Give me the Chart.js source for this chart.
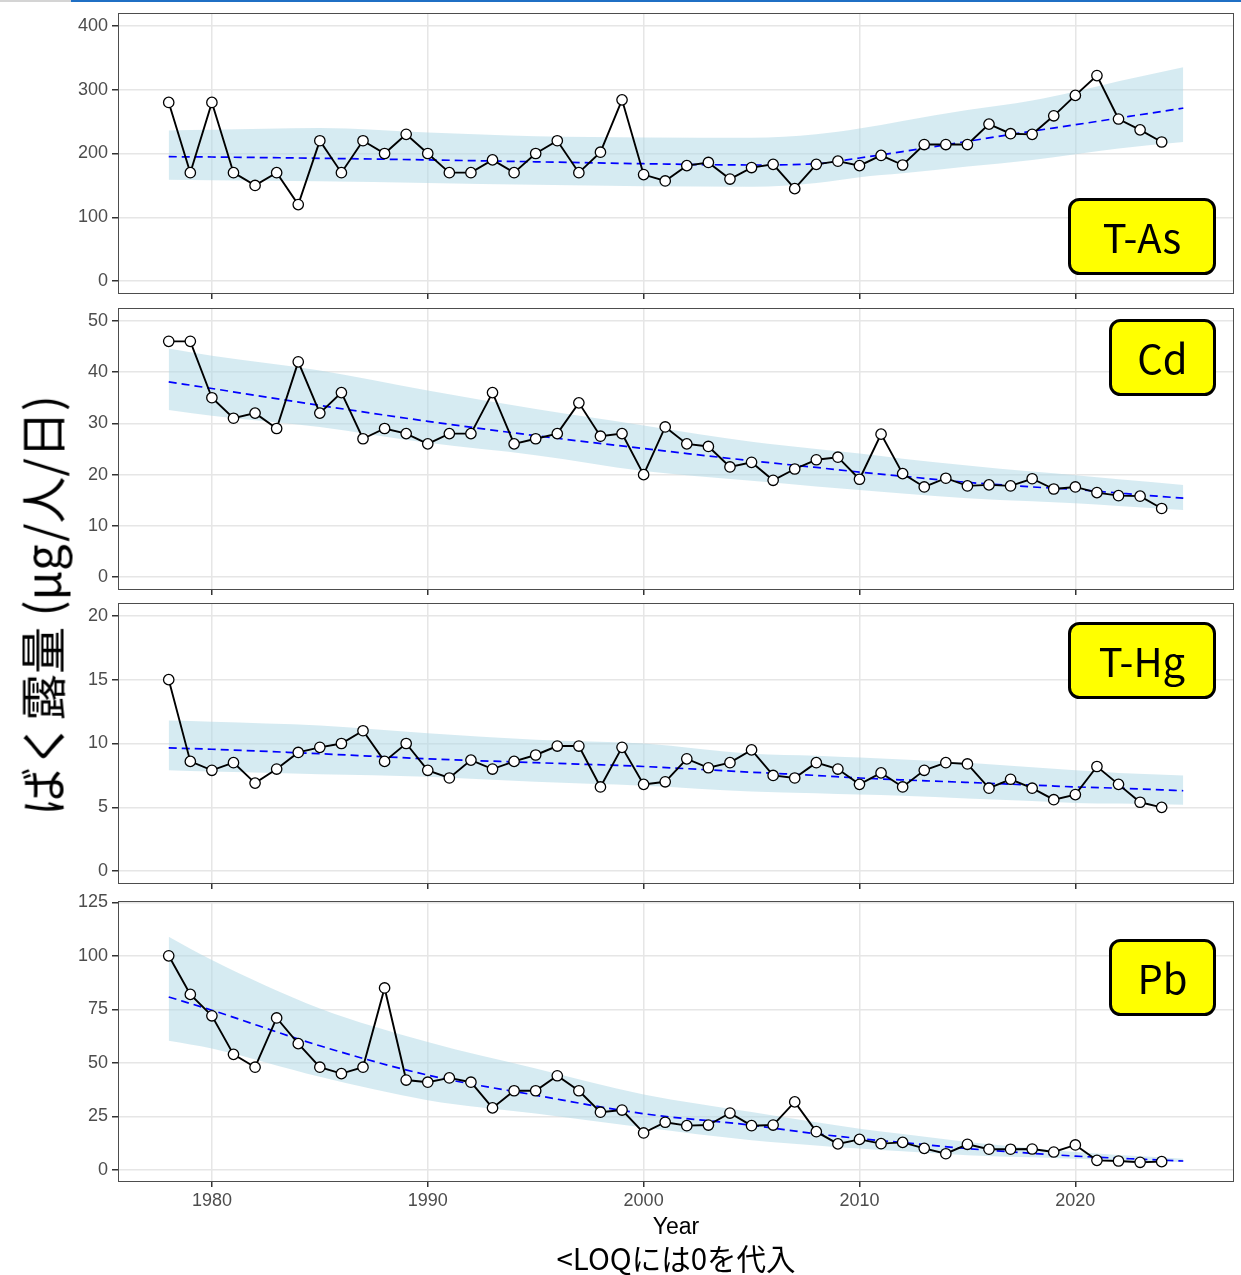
<!DOCTYPE html>
<html>
<head>
<meta charset="utf-8">
<script src="https://cdn.jsdelivr.net/npm/chart.js@4.4.1/dist/chart.umd.min.js"></script>
<style>
  body { margin: 0; background: #fff; width: 1241px; height: 1275px; position: relative; overflow: hidden; }
  canvas { position: absolute; left: 0; }
  #barGrey { position: absolute; left: 0; top: 0; width: 71px; height: 2px; background: #d4d4d4; }
  #barBlue { position: absolute; left: 71px; top: 0; width: 1170px; height: 2px; background: #1f6fc4; }
  #yTitle { position: absolute; left: 40px; top: 605px; transform: translate(-50%, -50%) rotate(-90deg);
            font: 47px "Noto Sans CJK JP"; white-space: nowrap; color: #000; }
  #xTitle { position: absolute; left: 676px; top: 1226px; transform: translate(-50%, -50%);
            font: 23px "Liberation Sans", Arial, sans-serif; color: #000; }
  #caption { position: absolute; left: 676px; top: 1257px; transform: translate(-50%, -50%);
             font: 29.5px "Noto Sans CJK JP"; white-space: nowrap; color: #000; }
</style>
</head>
<body>
<div id="barGrey"></div><div id="barBlue"></div>
<canvas id="c0"></canvas>
<canvas id="c1"></canvas>
<canvas id="c2"></canvas>
<canvas id="c3"></canvas>
<div id="yTitle">ばく露量 (μg/人/日)</div>
<div id="xTitle">Year</div>
<div id="caption">&lt;LOQには0を代入</div>
<script>
// observed years
const years = [1978, 1979, 1980, 1981, 1982, 1983, 1984, 1985, 1986, 1987, 1988, 1989,
  1990, 1991, 1992, 1993, 1994, 1995, 1996, 1997, 1998, 1999,
  2000, 2001, 2002, 2003, 2004, 2005, 2006, 2007, 2008, 2009,
  2010, 2011, 2012, 2013, 2014, 2015, 2016, 2017, 2018, 2019,
  2020, 2021, 2022, 2023, 2024];

const tAs = [280, 170, 280, 170, 150, 170, 120, 220, 170, 220, 200, 230,
  200, 170, 170, 190, 170, 200, 220, 170, 202, 284,
  167, 157, 181, 186, 160, 178, 183, 145, 183, 188,
  181, 197, 182, 214, 214, 214, 246, 231, 230, 259,
  291, 322, 254, 237, 218];
const cd = [46, 46, 35, 31, 32, 29, 42, 32, 36, 27, 29, 28,
  26, 28, 28, 36, 26, 27, 28, 34, 27.5, 28,
  20, 29.3, 26, 25.5, 21.5, 22.4, 18.9, 21.1, 22.9, 23.4,
  19.1, 27.9, 20.2, 17.6, 19.3, 17.8, 18.0, 17.8, 19.2, 17.2,
  17.6, 16.5, 15.9, 15.8, 13.4];
const tHg = [15.0, 8.6, 7.9, 8.5, 6.9, 8.0, 9.3, 9.7, 10.0, 11.0, 8.6, 10.0,
  7.9, 7.3, 8.7, 8.0, 8.6, 9.1, 9.8, 9.8, 6.6, 9.7,
  6.8, 7.0, 8.8, 8.1, 8.5, 9.5, 7.5, 7.3, 8.5, 8.0,
  6.8, 7.7, 6.6, 7.9, 8.5, 8.4, 6.5, 7.2, 6.5, 5.6,
  6.0, 8.2, 6.8, 5.4, 5.0];
const pb = [100, 82, 72, 54, 48, 71, 59, 48, 45, 48, 85, 42,
  41, 43, 41, 29, 37, 37, 44, 37, 27, 28,
  17.3, 22.3, 20.7, 21, 26.6, 20.7, 21, 31.8, 17.9, 12.2,
  14.3, 12.3, 12.9, 10.1, 7.6, 12, 9.7, 9.7, 9.8, 8.4,
  11.7, 4.5, 4.2, 3.6, 3.9];

// fitted trend and its band, read at these years
const bandYears = [1978, 1980, 1985, 1990, 1995, 2000, 2005, 2008, 2010, 2012, 2015, 2018, 2020, 2022, 2025];

const tAsFit   = [195, 194.5, 192.5, 190, 187, 184, 182, 184, 193, 203, 219, 235, 245, 255.5, 271];
const tAsUpper = [236, 237, 240, 233, 227, 225, 224.5, 230, 239, 251, 268, 283, 297, 313, 335];
const tAsLower = [159, 158, 156.5, 154, 151, 148.7, 148, 154, 163, 169, 179.5, 190, 199, 208, 218];

const cdFit   = [38.1, 36.8, 33.5, 30.4, 27.6, 25.1, 22.7, 21.4, 20.5, 19.7, 18.5, 17.6, 17.1, 16.4, 15.4];
const cdUpper = [44.6, 43.2, 40.3, 36.4, 32.8, 29.6, 26.4, 25.0, 24.1, 23.1, 21.8, 20.6, 19.9, 19.1, 18.0];
const cdLower = [32.6, 31.5, 29.3, 26.2, 23.8, 20.7, 18.8, 17.7, 17.0, 16.3, 15.4, 14.8, 14.4, 13.9, 13.1];

const tHgFit   = [9.65, 9.55, 9.2, 8.8, 8.5, 8.2, 7.75, 7.5, 7.3, 7.15, 6.95, 6.75, 6.6, 6.5, 6.3];
const tHgUpper = [11.8, 11.7, 11.4, 10.8, 10.3, 10.0, 9.2, 9.05, 8.9, 8.75, 8.5, 8.15, 7.9, 7.7, 7.5];
const tHgLower = [7.9, 7.8, 7.6, 7.4, 7.0, 6.7, 6.25, 6.1, 6.0, 5.9, 5.7, 5.5, 5.35, 5.3, 5.2];

const pbFit   = [80.8, 74.6, 58, 44.3, 34.9, 26.3, 20.9, 16.9, 14.7, 12.8, 10.0, 7.8, 6.5, 5.5, 4.2];
const pbUpper = [108.9, 98, 75.4, 59.8, 47.4, 35.3, 27.1, 22.3, 19.3, 16.8, 13.1, 10.2, 8.4, 7.0, 5.3];
const pbLower = [60.3, 56.7, 43.5, 32.6, 26.4, 19.8, 13.9, 11.5, 10.0, 8.7, 6.9, 5.9, 5.3, 4.6, 3.7];

// tick labels
const xTicks = [1980, 1990, 2000, 2010, 2020];
const tAsTicks = [0, 100, 200, 300, 400];
const cdTicks = [0, 10, 20, 30, 40, 50];
const tHgTicks = [0, 5, 10, 15, 20];
const pbTicks = [0, 25, 50, 75, 100, 125];

const panels = [
  { id: 'c0', name: 'T-As', obs: tAs, fit: tAsFit, up: tAsUpper, lo: tAsLower, ticks: tAsTicks,
    yMin: -20, yMax: 420, top: 13, bottom: 294, tag: { x: 1068, y: 198, w: 148, h: 77 } },
  { id: 'c1', name: 'Cd', obs: cd, fit: cdFit, up: cdUpper, lo: cdLower, ticks: cdTicks,
    yMin: -2.5, yMax: 52.5, top: 308, bottom: 590, tag: { x: 1109, y: 319, w: 107, h: 77 } },
  { id: 'c2', name: 'T-Hg', obs: tHg, fit: tHgFit, up: tHgUpper, lo: tHgLower, ticks: tHgTicks,
    yMin: -1, yMax: 21, top: 603, bottom: 884, tag: { x: 1068, y: 622, w: 148, h: 77 } },
  { id: 'c3', name: 'Pb', obs: pb, fit: pbFit, up: pbUpper, lo: pbLower, ticks: pbTicks,
    yMin: -5.6, yMax: 125.6, top: 901, bottom: 1182, tag: { x: 1109, y: 939, w: 107, h: 77 } }
];

const zip = (xs, ys) => xs.map((x, i) => ({ x: x, y: ys[i] }));

// panel border + yellow element label
const panelDeco = {
  id: 'panelDeco',
  afterDraw(chart, args, opts) {
    const ctx = chart.ctx;
    const a = chart.chartArea;
    ctx.save();
    ctx.strokeStyle = '#4d4d4d';
    ctx.lineWidth = 1;
    ctx.strokeRect(a.left + 0.5, a.top + 0.5, a.right - a.left - 1, a.bottom - a.top - 1);

    const t = opts.tag;
    const y0 = t.y - opts.offset;
    ctx.beginPath();
    ctx.roundRect(t.x + 1.5, y0 + 1.5, t.w - 3, t.h - 3, 10);
    ctx.fillStyle = '#ffff00';
    ctx.fill();
    ctx.lineWidth = 3;
    ctx.strokeStyle = '#000';
    ctx.stroke();
    ctx.fillStyle = '#000';
    ctx.font = '40px "Noto Sans CJK JP"';
    ctx.textAlign = 'center';
    ctx.textBaseline = 'middle';
    ctx.fillText(opts.text, t.x + t.w / 2, y0 + t.h / 2 + 1);
    ctx.restore();
  }
};

const padTop = 12;

panels.forEach((p, i) => {
  const last = i === panels.length - 1;
  const axisH = last ? 40 : 8;
  const offset = p.top - padTop;
  const canvas = document.getElementById(p.id);
  canvas.width = 1241;
  canvas.height = (p.bottom - p.top) + padTop + axisH;
  canvas.style.top = offset + 'px';

  new Chart(canvas.getContext('2d'), {
    type: 'line',
    data: {
      datasets: [
        {
          data: zip(years, p.obs),
          borderColor: '#000',
          borderWidth: 1.9,
          pointRadius: 5.2,
          pointBorderWidth: 1.3,
          pointBackgroundColor: '#fff',
          pointBorderColor: '#000',
          fill: false
        },
        {
          data: zip(bandYears, p.fit),
          borderColor: '#0000ff',
          borderWidth: 1.7,
          borderDash: [8, 5],
          pointRadius: 0,
          cubicInterpolationMode: 'monotone',
          fill: false
        },
        {
          data: zip(bandYears, p.up),
          borderWidth: 0,
          borderColor: 'rgba(0,0,0,0)',
          backgroundColor: 'rgba(173,216,230,0.5)',
          pointRadius: 0,
          cubicInterpolationMode: 'monotone',
          fill: '+1'
        },
        {
          data: zip(bandYears, p.lo),
          borderWidth: 0,
          borderColor: 'rgba(0,0,0,0)',
          pointRadius: 0,
          cubicInterpolationMode: 'monotone',
          fill: false
        }
      ]
    },
    options: {
      responsive: false,
      animation: false,
      devicePixelRatio: 1,
      layout: { autoPadding: false, padding: { top: padTop, right: 7, left: 0, bottom: 0 } },
      plugins: {
        legend: { display: false },
        tooltip: { enabled: false },
        panelDeco: { tag: p.tag, text: p.name, offset: offset }
      },
      scales: {
        x: {
          type: 'linear',
          min: 1975.65,
          max: 2027.35,
          afterBuildTicks: s => { s.ticks = xTicks.map(v => ({ value: v })); },
          afterFit: s => { s.height = axisH; s.paddingLeft = 0; s.paddingRight = 0; },
          grid: { color: '#e6e6e6', lineWidth: 1.5, tickColor: '#333', tickLength: 5 },
          border: { display: false },
          ticks: {
            display: last,
            padding: 3,
            color: '#4d4d4d',
            font: { family: '"Liberation Sans", Arial, sans-serif', size: 18 },
            maxRotation: 0,
            callback: v => String(v)
          }
        },
        y: {
          min: p.yMin,
          max: p.yMax,
          afterBuildTicks: s => { s.ticks = p.ticks.map(v => ({ value: v })); },
          afterFit: s => { s.width = 118; s.paddingTop = 0; s.paddingBottom = 0; },
          grid: { color: '#e6e6e6', lineWidth: 1.5, tickColor: '#333', tickLength: 6 },
          border: { display: false },
          ticks: {
            padding: 4,
            color: '#4d4d4d',
            font: { family: '"Liberation Sans", Arial, sans-serif', size: 18 },
            callback: v => String(v)
          }
        }
      }
    },
    plugins: [panelDeco]
  });
});
</script>
</body>
</html>
